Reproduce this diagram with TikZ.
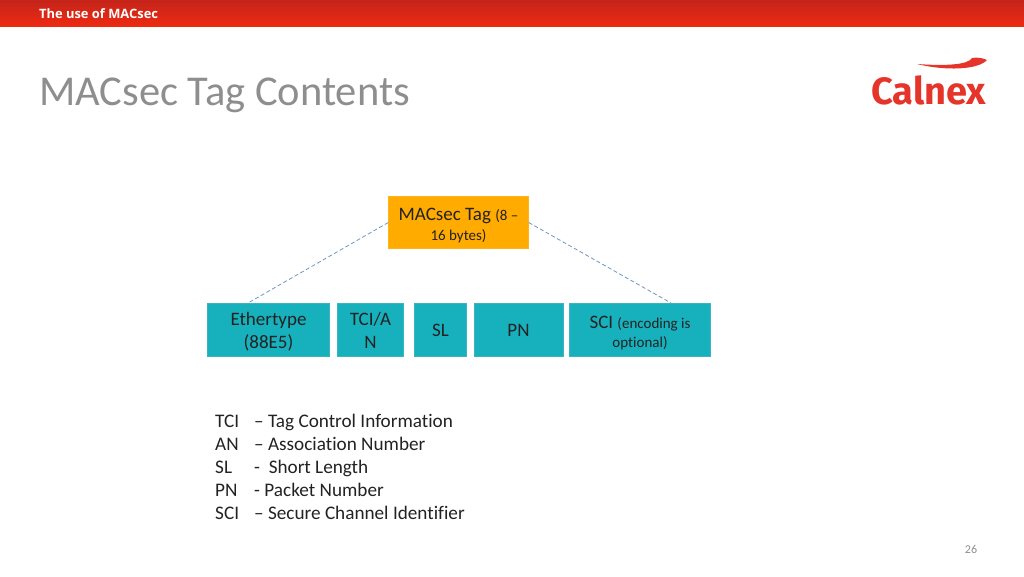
\documentclass[tikz,border=0pt]{standalone}
\usepackage{fontspec}
\setmainfont[Ligatures={TeX,NoCommon}]{Carlito}
\newfontfamily\headfont{Open Sans}
\newfontfamily\logofont{Fira Sans}
\definecolor{hdrtop}{HTML}{C4241A}
\definecolor{hdrbot}{HTML}{EE2A12}
\definecolor{tagorange}{HTML}{FFAB00}
\definecolor{fieldteal}{HTML}{17B1BD}
\definecolor{fieldedge}{HTML}{3AB4BE}
\definecolor{dashblue}{HTML}{6F94C4}
\definecolor{titlegrey}{HTML}{8E8E8E}
\definecolor{logored}{HTML}{E5352B}
\definecolor{inktext}{HTML}{222222}
\tikzset{
  fieldbox/.style={draw=fieldedge, fill=fieldteal, text=inktext, align=center, inner sep=0pt,
    minimum height=53, font=\fontsize{19}{23}\selectfont},
  tagbox/.style={draw=tagorange!90!white, fill=tagorange, text=inktext, align=center, inner sep=0pt,
    minimum width=140, minimum height=52, font=\fontsize{19}{21}\selectfont},
  legend/.style={anchor=base west, inner sep=0pt, text=inktext, font=\fontsize{19.2}{22}\selectfont},
  tie/.style={draw=dashblue, dash pattern=on 4pt off 2.5pt, line width=0.8}
}
\newcommand{\smalltxt}[1]{{\fontsize{15}{20}\selectfont #1}}
\newcommand{\toppad}[1]{\rule{0pt}{#1pt}}
\begin{document}
\begin{tikzpicture}[x=1pt,y=-1pt]

    \useasboundingbox (0,0) rectangle (1024,576);

    % Header band
    \shade[top color=hdrtop, bottom color=hdrbot] (0,0) rectangle (1024,26.5);
    \node[anchor=base west, inner sep=0pt, text=white, font=\headfont\bfseries\fontsize{12.9}{14}\selectfont] (hdr) at (39,18) {The use of MACsec};

    % Title
    \node[anchor=base west, inner sep=0pt, text=titlegrey, font=\fontsize{42.5}{46}\selectfont] (title) at (39,105) {MACsec Tag Contents};

    % Logo
    \node[anchor=base west, inner sep=0pt, text=logored, font=\logofont\bfseries\fontsize{38}{40}\selectfont] (logo) at (871,104) {Calnex};
    \fill[logored] (917,64) .. controls (945,66) and (968,65) .. (972,58) .. controls (977,57) and (983,58) .. (987,60)
        .. controls (978,70) and (945,71) .. (917,64);

    % Tag
    \node[tagbox] (tag) at (458.5,222.5) {\toppad{19}MACsec Tag \smalltxt{(8 --}\\[-1pt]\smalltxt{16 bytes)}};

    % Fields
    \node[fieldbox, minimum width=122] (eth) at (268.5,330) {\toppad{17}Ethertype\\(88E5)};
    \node[fieldbox, minimum width=66] (tci) at (370.5,330) {TCI/A\\N};
    \node[fieldbox, minimum width=52] (sl) at (440.5,330) {SL};
    \node[fieldbox, minimum width=89] (pn) at (518.5,330) {PN};
    \node[fieldbox, minimum width=141] (sci) at (640,330) {\toppad{19}SCI \smalltxt{(encoding is}\\[-4pt]\smalltxt{optional)}};

    % Dashed ties
    \coordinate (ethtop) at (248,303);
    \coordinate (scitop) at (671,303);
    \draw[tie] (tag.west) -- (ethtop);
    \draw[tie] (tag.east) -- (scitop);

    % Legend
    \foreach \abbr/\longname [count=\row from 0] in {TCI/-- Tag Control Information, AN/-- Association Number, SL/-\ \ Short Length, PN/- Packet Number, SCI/-- Secure Channel Identifier} {
        \node[legend] (abbr\row) at (215,427+23*\row) {\abbr};
        \node[legend] (mean\row) at (254,427+23*\row) {\longname};
    }

    % Page number
    \node[inner sep=0pt, text=titlegrey, font=\fontsize{12}{14}\selectfont] (pagenum) at (971,549) {26};

\end{tikzpicture}
\end{document}
